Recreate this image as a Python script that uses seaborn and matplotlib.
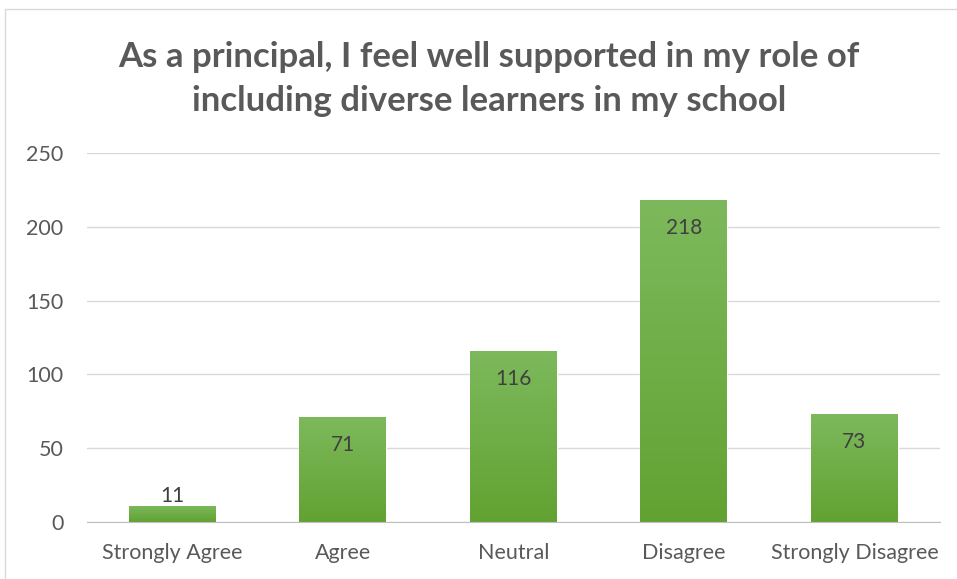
import numpy as np
import pandas as pd
import matplotlib
matplotlib.use('Agg')
import matplotlib.pyplot as plt
import seaborn as sns
from matplotlib.colors import LinearSegmentedColormap
from matplotlib.patches import Rectangle

# Datos
categories = ['Strongly Agree', 'Agree', 'Neutral', 'Disagree', 'Strongly Disagree']
counts = [11, 71, 116, 218, 73]
y_ticks = [0, 50, 100, 150, 200, 250]
title = 'As a principal, I feel well supported in my role of\nincluding diverse learners in my school'

sns.set_style('white')
plt.rcParams['font.family'] = ['Lato', 'DejaVu Sans']

df = pd.DataFrame({'Respuesta': categories, 'Cantidad': counts})

fig = plt.figure(figsize=(9.57, 5.79), dpi=100)
ax = fig.add_axes([0.0909, 0.0984, 0.8911, 0.6374])

sns.barplot(data=df, x='Respuesta', y='Cantidad', color='#70ad47', width=0.51, ax=ax,
            saturation=1, zorder=2)

# Degradado verde como en Excel
grad = LinearSegmentedColormap.from_list('verde', ['#62a232', '#7db95c'])
ax.set_xlim(-0.5, len(categories) - 0.5)
ax.set_ylim(0, 250)
for patch in ax.patches:
    x0, w, h = patch.get_x(), patch.get_width(), patch.get_height()
    img = ax.imshow(np.linspace(0, 1, 256).reshape(-1, 1), cmap=grad, origin='lower',
                    extent=[x0, x0 + w, 0, h], aspect='auto', zorder=3)
    img.set_clip_path(patch)
ax.set_xlim(-0.5, len(categories) - 0.5)
ax.set_ylim(0, 250)

# Etiquetas de datos
for i, v in enumerate(counts):
    off = -28 if v > 20 else 10
    ax.annotate(str(v), (i, v), xytext=(0, off), textcoords='offset pixels',
                ha='center', va='center', fontsize=15, color='#404040', zorder=5)

ax.set_yticks(y_ticks)
ax.yaxis.grid(True, color='#d9d9d9', linewidth=1, zorder=0)
ax.set_axisbelow(True)
for s in ['top', 'right', 'left']:
    ax.spines[s].set_visible(False)
ax.spines['bottom'].set_color('#bfbfbf')
ax.spines['bottom'].set_zorder(4)
ax.tick_params(axis='both', length=0, labelsize=15.5, labelcolor='#595959')
ax.tick_params(axis='x', pad=15)
ax.tick_params(axis='y', pad=17)
ax.set_xlabel('')
ax.set_ylabel('')

fig.text(0.511, 0.864, title, ha='center', va='center', fontsize=25, fontweight='bold',
         color='#595959', linespacing=1.45)

# Marco del gráfico
fig.patches.append(Rectangle((5 / 957, -0.05), 1.2, 0.05 + (579 - 9) / 579, transform=fig.transFigure,
                             fill=False, edgecolor='#d9d9d9', linewidth=1))

fig.savefig('out.png', dpi=100)
